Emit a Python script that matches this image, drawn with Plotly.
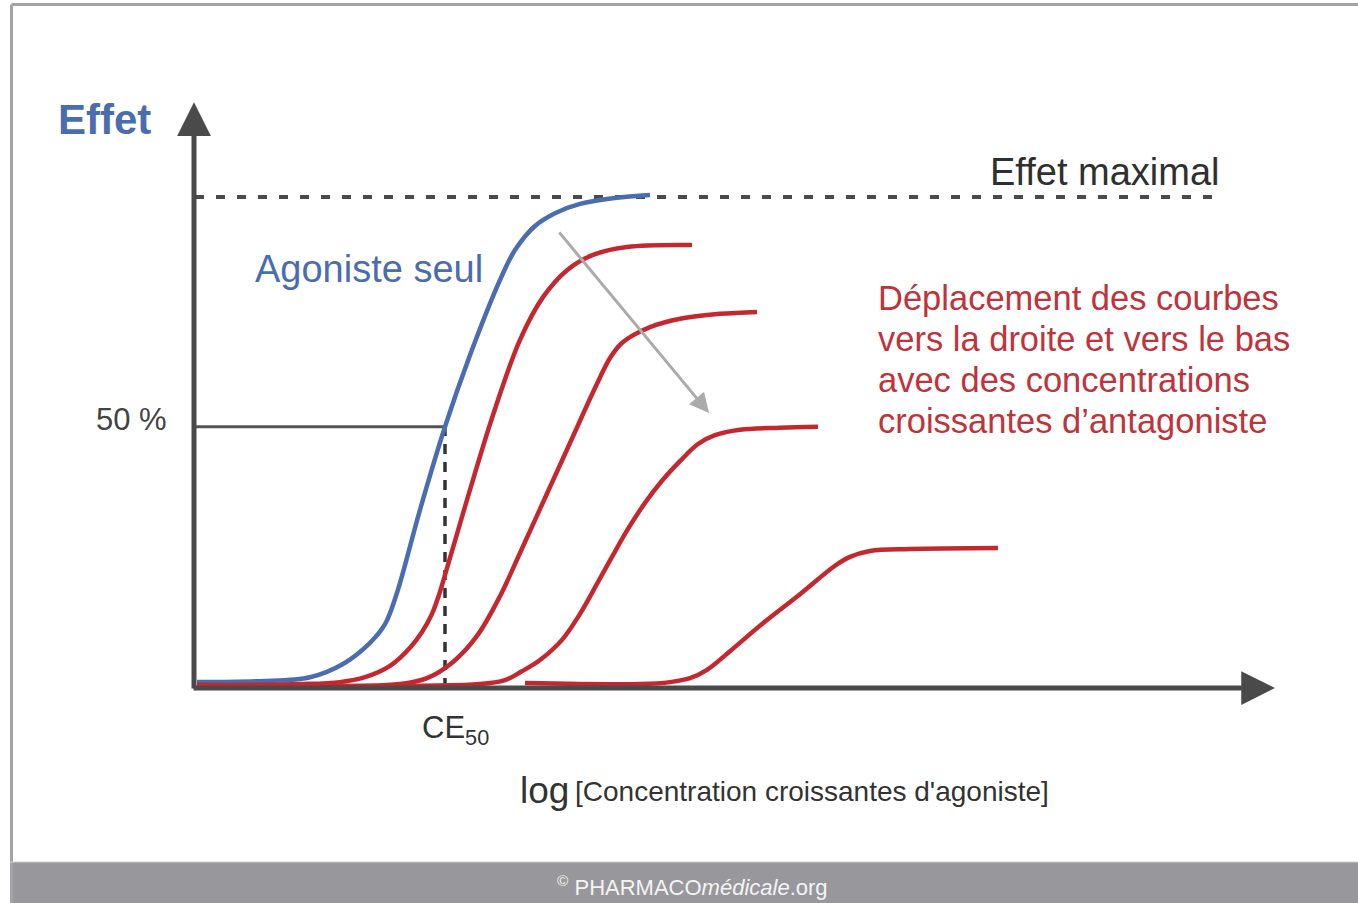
import plotly.graph_objects as go

W, H = 1358, 903

# ---- data (x = log concentration, arbitrary units; y = effect, % of maximal effect)
agoniste_x = [0.02, 0.65, 1.15, 1.48, 1.75, 1.90, 2.02, 2.25, 2.50, 2.75, 3.05, 3.20, 3.40, 3.60, 3.85, 4.20, 4.55]
agoniste_y = [1.2, 1.4, 2.2, 4.9, 9.2, 13.0, 19.4, 36.3, 53.2, 67.8, 83.1, 89.2, 94.1, 96.7, 98.6, 99.8, 100.4]

antag1_x = [0.02, 1.05, 1.45, 1.70, 1.95, 2.15, 2.27, 2.37, 2.45, 2.52, 2.72, 2.98, 3.25, 3.48, 3.72, 3.98, 4.32, 4.97]
antag1_y = [0.6, 0.8, 1.2, 2.2, 4.5, 8.2, 11.4, 15.1, 19.6, 24.4, 38.3, 55.6, 70.9, 79.6, 85.1, 88.2, 89.8, 90.2]

antag2_x = [0.02, 2.05, 2.32, 2.58, 2.82, 3.05, 3.25, 3.50, 3.75, 4.00, 4.15, 4.25, 4.37, 4.55, 4.85, 5.25, 5.62]
antag2_y = [0.6, 0.8, 2.0, 5.3, 10.6, 18.7, 27.5, 38.7, 49.9, 61.1, 67.2, 69.9, 71.7, 73.5, 75.2, 76.2, 76.6]

antag3_x = [0.02, 2.85, 3.10, 3.26, 3.45, 3.67, 3.85, 4.02, 4.17, 4.33, 4.50, 4.67, 4.85, 5.03, 5.20, 5.45, 5.85, 6.23]
antag3_y = [0.6, 0.8, 1.6, 3.3, 5.7, 9.8, 15.1, 21.2, 26.7, 32.4, 37.7, 42.2, 46.2, 49.7, 51.5, 52.6, 53.0, 53.2]

antag4_x = [3.30, 4.45, 4.75, 4.95, 5.12, 5.35, 5.68, 6.05, 6.40, 6.55, 6.75, 7.15, 8.03]
antag4_y = [1.0, 0.8, 1.2, 2.0, 3.7, 7.5, 13.2, 19.1, 24.9, 26.7, 27.9, 28.3, 28.5]

ce50_x = 2.50        # log CE50 of the agonist alone
demi_effet_y = 53.2  # level of the "50 %" reference line
effet_max_y = 100.0
x_axis_end = 10.80
y_axis_end = 119.3
max_line_end = 10.23

# ---- pixel mapping of the drawing area (data -> screen)
X0_PX, PX_PER_X = 195, 100.0
Y0_PX, PX_PER_Y = 688, 4.91
x_range = [(0 - X0_PX) / PX_PER_X, (W - X0_PX) / PX_PER_X]
y_range = [(Y0_PX - H) / PX_PER_Y, Y0_PX / PX_PER_Y]


def px(x):
    return x / W


def py(y):
    return 1 - y / H


BLUE = "#4a6daf"
RED = "#c4282e"
DARK = "#4a4a4a"
FONT = "Liberation Sans, Arial, sans-serif"

fig = go.Figure()

fig.add_trace(go.Scatter(x=agoniste_x, y=agoniste_y, mode="lines",
                         line=dict(color=BLUE, width=4.5, shape="spline", smoothing=1.0),
                         hoverinfo="skip", showlegend=False))
for xs, ys in [(antag1_x, antag1_y), (antag2_x, antag2_y), (antag3_x, antag3_y), (antag4_x, antag4_y)]:
    fig.add_trace(go.Scatter(x=xs, y=ys, mode="lines",
                             line=dict(color=RED, width=4.5, shape="spline", smoothing=1.0),
                             hoverinfo="skip", showlegend=False))

shapes = [
    # frame
    dict(type="line", xref="paper", yref="paper", x0=px(11.5), x1=1, y0=py(4.5), y1=py(4.5),
         line=dict(color="#a3a3a3", width=3)),
    dict(type="line", xref="paper", yref="paper", x0=px(11.5), x1=px(11.5), y0=py(4.5), y1=0,
         line=dict(color="#a3a3a3", width=3)),
    # footer band
    dict(type="rect", xref="paper", yref="paper", x0=px(10), x1=1, y0=0, y1=py(862),
         fillcolor="#98979b", line=dict(width=0), layer="below"),
    dict(type="line", xref="paper", yref="paper", x0=px(10), x1=1, y0=py(862), y1=py(862),
         line=dict(color="#cfcfcf", width=1)),
    # effet maximal dashed line
    dict(type="line", xref="x", yref="y", x0=0, x1=max_line_end, y0=effet_max_y, y1=effet_max_y,
         line=dict(color=DARK, width=4, dash="9px,12px"), layer="below"),
    # 50 % reference line
    dict(type="line", xref="x", yref="y", x0=0, x1=ce50_x, y0=demi_effet_y, y1=demi_effet_y,
         line=dict(color="#555555", width=3), layer="below"),
    dict(type="line", xref="x", yref="y", x0=ce50_x, x1=ce50_x, y0=0, y1=demi_effet_y,
         line=dict(color="#333333", width=3.5, dash="10px,8px"), layer="below"),
]

ann = []
# axes as arrows
ann.append(dict(x=-0.01, y=y_axis_end, ax=-0.01, ay=-0.4, xref="x", yref="y", axref="x", ayref="y",
                text="", showarrow=True, arrowhead=2, arrowsize=1.35, arrowwidth=5, arrowcolor=DARK))
ann.append(dict(x=x_axis_end, y=0, ax=-0.03, ay=0, xref="x", yref="y", axref="x", ayref="y",
                text="", showarrow=True, arrowhead=2, arrowsize=1.35, arrowwidth=5, arrowcolor=DARK))
# grey shift arrow
ann.append(dict(x=5.14, y=56.0, ax=3.63, ay=93.1, xref="x", yref="y", axref="x", ayref="y",
                text="", showarrow=True, arrowhead=2, arrowsize=1.3, arrowwidth=3, arrowcolor="#ababab"))


def label(text, x, y, size, color, xanchor="left", bold=False):
    ann.append(dict(text=("<b>%s</b>" % text) if bold else text, x=px(x), y=py(y),
                    xref="paper", yref="paper", xanchor=xanchor, yanchor="middle",
                    showarrow=False, font=dict(family=FONT, size=size, color=color)))


label("Effet", 56, 119, 42, BLUE, bold=True)
label("Agoniste seul", 253, 269, 38, BLUE)
label("Effet maximal", 988, 172, 38, "#2f2f2f")
label("50 %", 94, 420, 31, "#444444")
red_lines = ["Déplacement des courbes", "vers la droite et vers le bas",
             "avec des concentrations", "croissantes d’antagoniste"]
for i, t in enumerate(red_lines):
    label(t, 876, 298 + 41 * i, 34.5, "#bf333a")
label("CE<sub>50</sub>", 420, 730, 31, "#333333")
label("log", 518, 790, 37, "#333333")
label("[Concentration croissantes d'agoniste]", 573, 791, 28, "#333333")
label("<sup>©</sup> PHARMACO<i>médicale</i>.org", 692, 886, 22, "#f4f4f4", xanchor="center")

fig.update_layout(
    width=W, height=H,
    margin=dict(l=0, r=0, t=0, b=0),
    paper_bgcolor="white", plot_bgcolor="white",
    xaxis=dict(range=x_range, visible=False, fixedrange=True),
    yaxis=dict(range=y_range, visible=False, fixedrange=True),
    shapes=shapes, annotations=ann, showlegend=False,
)

fig.write_html("out.html", config={"displayModeBar": False},
               post_script="document.body.style.margin='0px';")
